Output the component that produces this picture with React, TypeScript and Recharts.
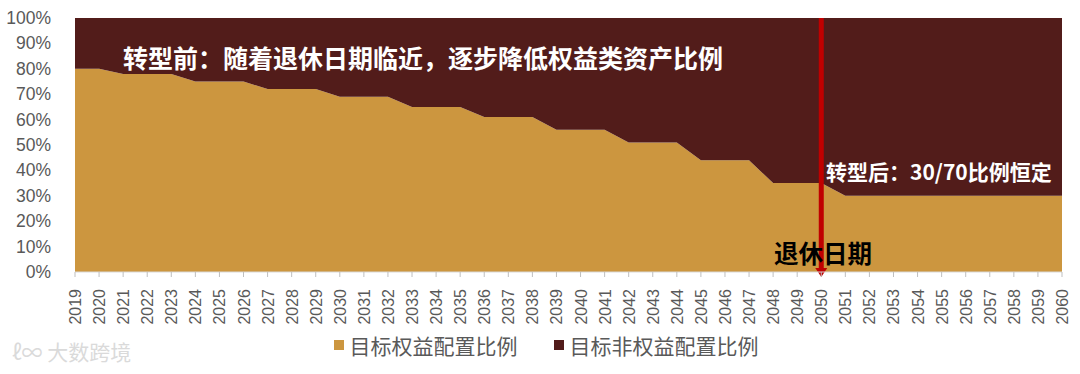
import { AreaChart, Area, XAxis, YAxis, ReferenceLine, Legend } from 'recharts';

const years = [
  '2019', '2020', '2021', '2022', '2023', '2024', '2025', '2026', '2027', '2028',
  '2029', '2030', '2031', '2032', '2033', '2034', '2035', '2036', '2037', '2038',
  '2039', '2040', '2041', '2042', '2043', '2044', '2045', '2046', '2047', '2048',
  '2049', '2050', '2051', '2052', '2053', '2054', '2055', '2056', '2057', '2058',
  '2059', '2060',
];

// 目标权益配置比例 (%)
const equityShare = [
  80, 80, 78, 78, 78, 75, 75, 75, 72, 72,
  72, 69, 69, 69, 65, 65, 65, 61, 61, 61,
  56, 56, 56, 51, 51, 51, 44, 44, 44, 35,
  35, 35, 30, 30, 30, 30, 30, 30, 30, 30,
  30, 30,
];

// 目标非权益配置比例 (%)
const nonEquityShare = [
  20, 20, 22, 22, 22, 25, 25, 25, 28, 28,
  28, 31, 31, 31, 35, 35, 35, 39, 39, 39,
  44, 44, 44, 49, 49, 49, 56, 56, 56, 65,
  65, 65, 70, 70, 70, 70, 70, 70, 70, 70,
  70, 70,
];

const yTicks = [0, 10, 20, 30, 40, 50, 60, 70, 80, 90, 100];
const retireYear = '2050';

const EQUITY = '#CC963F';
const NON_EQUITY = '#521C1A';
const ARROW = '#C00000';
const TEXT = '#595959';
const FONT = '"Liberation Sans", Arial, "Noto Sans CJK SC", sans-serif';
const CJK = '"Noto Sans CJK SC", "Liberation Sans", sans-serif';

const data = years.map((y, i) => ({
  year: y,
  equity: equityShare[i],
  nonEquity: nonEquityShare[i],
}));

function YearTick({ x, y, payload }: any) {
  return (
    <text
      x={0}
      y={0}
      transform={`translate(${x + 6},${y + 10}) rotate(-90)`}
      textAnchor="end"
      fontSize={16}
      fill={TEXT}
      fontFamily={FONT}
    >
      {payload.value}
    </text>
  );
}

// y labels end about 18px left of the plot
function PctTick({ x, y, payload }: any) {
  return (
    <text x={x - 4} y={y} dy={6} textAnchor="end" fontSize={17.5} fill={TEXT} fontFamily={FONT}>
      {`${payload.value}%`}
    </text>
  );
}

function ArrowHead({ viewBox }: any) {
  const { x, y, height } = viewBox;
  const b = y + height;
  return <polygon points={`${x - 6},${b - 4} ${x + 6},${b - 4} ${x},${b + 5}`} fill={ARROW} />;
}

function LegendBox() {
  const items = [
    { label: '目标权益配置比例', color: EQUITY },
    { label: '目标非权益配置比例', color: NON_EQUITY },
  ];
  return (
    <div style={{ display: 'flex', justifyContent: 'center', gap: 36, paddingLeft: 30 }}>
      {items.map((it) => (
        <div key={it.label} style={{ display: 'flex', alignItems: 'center', gap: 6 }}>
          <div style={{ width: 10, height: 10, background: it.color }} />
          <span style={{ fontFamily: CJK, fontSize: 21, color: TEXT }}>{it.label}</span>
        </div>
      ))}
    </div>
  );
}

export default function App() {
  return (
    <div style={{ position: 'absolute', left: 0, top: 0, width: 1080, height: 374, background: '#fff' }}>
      <AreaChart
        width={1080}
        height={374}
        data={data}
        margin={{ top: 18, right: 18, left: 0, bottom: 0 }}
      >
        <XAxis
          dataKey="year"
          interval={0}
          height={58}
          tick={<YearTick />}
          tickLine={{ stroke: '#BFBFBF' }}
          tickSize={5}
          axisLine={{ stroke: '#D9D9D9' }}
        />
        <YAxis
          width={75}
          domain={[0, 100]}
          ticks={yTicks}
          interval={0}
          axisLine={false}
          tickLine={false}
          tickMargin={14}
          tick={<PctTick />}
        />
        <Area
          type="linear"
          dataKey="equity"
          name="目标权益配置比例"
          stackId="1"
          stroke="none"
          fill={EQUITY}
          fillOpacity={1}
          isAnimationActive={false}
        />
        <Area
          type="linear"
          dataKey="nonEquity"
          name="目标非权益配置比例"
          stackId="1"
          stroke="none"
          fill={NON_EQUITY}
          fillOpacity={1}
          isAnimationActive={false}
        />
        <ReferenceLine x={retireYear} stroke={ARROW} strokeWidth={5} label={<ArrowHead />} />
        <Legend verticalAlign="bottom" height={44} content={<LegendBox />} />
      </AreaChart>

      <div
        style={{
          position: 'absolute', left: 123, top: 42, fontFamily: CJK, fontWeight: 700,
          fontSize: 25, color: '#fff', whiteSpace: 'nowrap', lineHeight: '30px',
        }}
      >
        转型前：随着退休日期临近，逐步降低权益类资产比例
      </div>
      <div
        style={{
          position: 'absolute', left: 826, top: 158, fontFamily: CJK, fontWeight: 700,
          fontSize: 21, color: '#fff', whiteSpace: 'nowrap', lineHeight: '26px',
        }}
      >
        转型后：30/70比例恒定
      </div>
      <div
        style={{
          position: 'absolute', left: 774, top: 238, fontFamily: CJK, fontWeight: 700,
          fontSize: 24.5, color: '#000', whiteSpace: 'nowrap', lineHeight: '30px',
        }}
      >
        退休日期
      </div>
      <div
        style={{
          position: 'absolute', left: 12, top: 338, fontFamily: CJK, fontSize: 21,
          color: '#DADADA', whiteSpace: 'nowrap', lineHeight: '26px',
        }}
      >
        ℓ∞ 大数跨境
      </div>
    </div>
  );
}
